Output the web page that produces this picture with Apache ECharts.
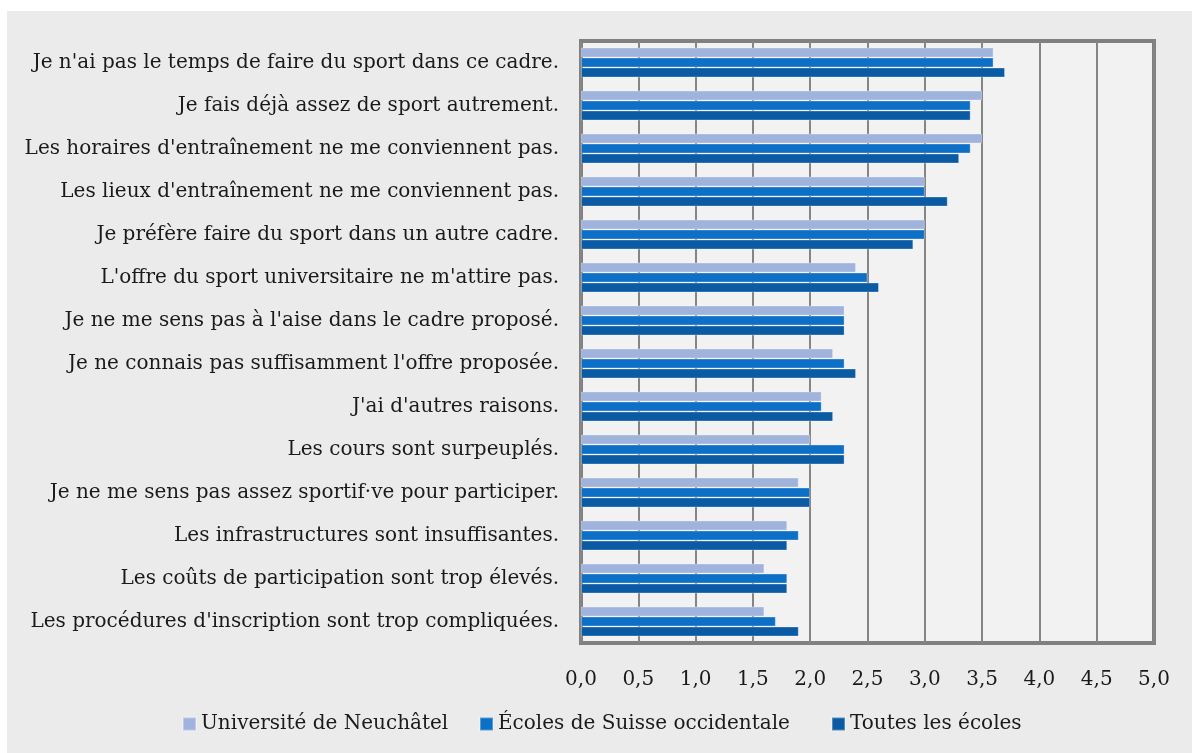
<!DOCTYPE html>
<html>
<head>
<meta charset="utf-8">
<title>Raisons de ne pas participer</title>
<script src="https://cdn.jsdelivr.net/npm/echarts@6/dist/echarts.min.js"></script>
<style>
  html, body { margin: 0; padding: 0; background: #ffffff; }
  #main { position: absolute; left: 7px; top: 11px; width: 1185px; height: 742px; }
</style>
</head>
<body>
<div id="main"></div>
<script>
// categories, top to bottom
var categories = [
  "Je n'ai pas le temps de faire du sport dans ce cadre.",
  "Je fais déjà assez de sport autrement.",
  "Les horaires d'entraînement ne me conviennent pas.",
  "Les lieux d'entraînement ne me conviennent pas.",
  "Je préfère faire du sport dans un autre cadre.",
  "L'offre du sport universitaire ne m'attire pas.",
  "Je ne me sens pas à l'aise dans le cadre proposé.",
  "Je ne connais pas suffisamment l'offre proposée.",
  "J'ai d'autres raisons.",
  "Les cours sont surpeuplés.",
  "Je ne me sens pas assez sportif·ve pour participer.",
  "Les infrastructures sont insuffisantes.",
  "Les coûts de participation sont trop élevés.",
  "Les procédures d'inscription sont trop compliquées."
];

var seriesNames = ["Université de Neuchâtel", "Écoles de Suisse occidentale", "Toutes les écoles"];
var unine   = [3.6, 3.5, 3.5, 3.0, 3.0, 2.4, 2.3, 2.2, 2.1, 2.0, 1.9, 1.8, 1.6, 1.6];
var romandie = [3.6, 3.4, 3.4, 3.0, 3.0, 2.5, 2.3, 2.3, 2.1, 2.3, 2.0, 1.9, 1.8, 1.7];
var toutes  = [3.7, 3.4, 3.3, 3.2, 2.9, 2.6, 2.3, 2.4, 2.2, 2.3, 2.0, 1.8, 1.8, 1.9];
var colors = ['#a0b3dc', '#0e6fc7', '#0a5aa4'];

var font = 'DejaVu Serif';
var fontSize = 20;
var chart = echarts.init(document.getElementById('main'));

function bar(name, data, color) {
  return {
    name: name,
    type: 'bar',
    data: data,
    barWidth: 10,
    barGap: '0%',
    itemStyle: { color: color, borderColor: 'rgba(255,255,255,0.3)', borderWidth: 1 }
  };
}

// one legend per item so each sits where it does in the original
function legendItem(name, left) {
  return {
    data: [name],
    left: left,
    top: 703,
    padding: 0,
    itemWidth: 13,
    itemHeight: 13,
    icon: 'rect',
    itemGap: 0,
    textStyle: { fontFamily: font, fontSize: fontSize, color: '#1a1a1a' }
  };
}

var option = {
  backgroundColor: '#ebebeb',
  animation: false,
  color: colors,
  grid: {
    show: true,
    left: 574, right: 38, top: 30, bottom: 110,
    backgroundColor: '#f2f2f2',
    borderColor: '#808080',
    borderWidth: 4
  },
  legend: [
    legendItem(seriesNames[0], 175),
    legendItem(seriesNames[1], 472),
    legendItem(seriesNames[2], 824)
  ],
  xAxis: {
    type: 'value',
    min: 0, max: 5, interval: 0.5,
    axisLine: { show: false },
    axisTick: { show: false },
    splitLine: { lineStyle: { color: '#858585', width: 2 } },
    axisLabel: {
      margin: 27,
      fontFamily: font, fontSize: fontSize, color: '#1a1a1a',
      formatter: function (v) { return v.toFixed(1).replace('.', ','); }
    }
  },
  yAxis: {
    type: 'category',
    inverse: true,
    data: categories,
    axisLine: { show: false },
    axisTick: { show: false },
    axisLabel: { margin: 22, fontFamily: font, fontSize: fontSize, color: '#1a1a1a' }
  },
  series: [
    bar(seriesNames[0], unine, colors[0]),
    bar(seriesNames[1], romandie, colors[1]),
    bar(seriesNames[2], toutes, colors[2])
  ]
};
chart.setOption(option);
</script>
</body>
</html>
